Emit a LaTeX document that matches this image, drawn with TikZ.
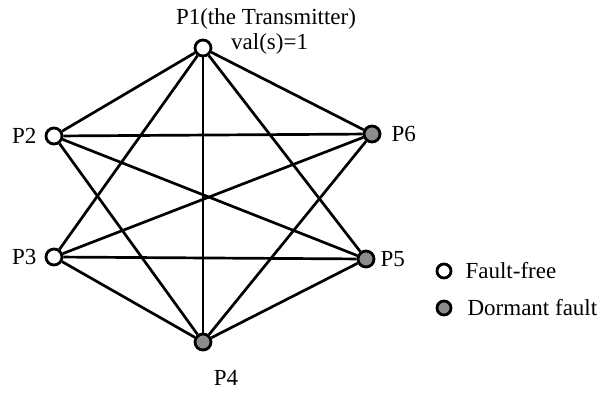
\documentclass[tikz,border=0pt]{standalone}
\usepackage{fontspec}
\setmainfont{Liberation Serif}
\usetikzlibrary{positioning}

\begin{document}
\begin{tikzpicture}[x=1pt, y=-1pt, font=\fontsize{23}{27}\selectfont,
    proc/.style={circle, draw=black, fill=white, line width=2.8pt, minimum size=16pt, inner sep=0pt},
    dormant/.style={proc, fill=black!45},
    link/.style={draw=black, line width=2.7pt},
    tag/.style={inner sep=0pt}]
    \useasboundingbox (0,0) rectangle (611,394);

    \node [proc] (p1) at (203,48) {};
    \node [proc] (p2) at (54,136) {};
    \node [proc] (p3) at (54,257) {};
    \node [dormant] (p4) at (203,342) {};
    \node [dormant] (p5) at (366,259) {};
    \node [dormant] (p6) at (372,134) {};

    \path [link] (p1) -- (p2);
    \path [link] (p1) -- (p3);
    \path [link] (p1) -- (p4);
    \path [link] (p1) -- (p5);
    \path [link] (p1) -- (p6);
    \path [link] (p2) -- (p6);
    \path [link] (p2) -- (p5);
    \path [link] (p2) -- (p4);
    \path [link] (p3) -- (p6);
    \path [link] (p3) -- (p5);
    \path [link] (p3) -- (p4);
    \path [link] (p4) -- (p6);
    \path [link] (p4) -- (p5);

    \node [tag] (l1) at (266,19) {P1(the Transmitter)};
    \node [tag, anchor=west] (v1) at (231,44) {val(s)=1};
    \node [tag, left=8pt of p2] (l2) {P2};
    \node [tag, left=8pt of p3] (l3) {P3};
    \node [tag] (l4) at (226,378) {P4};
    \node [tag, right=5pt of p5] (l5) {P5};
    \node [tag, right=10pt of p6] (l6) {P6};

    % legend
    \node [proc, minimum size=14pt] (k1) at (444,271) {};
    \node [dormant, minimum size=14pt] (k2) at (444,308) {};
    \node [tag, right=13pt of k1] (t1) {Fault-free};
    \node [tag, right=15pt of k2] (t2) {Dormant fault};
\end{tikzpicture}
\end{document}
